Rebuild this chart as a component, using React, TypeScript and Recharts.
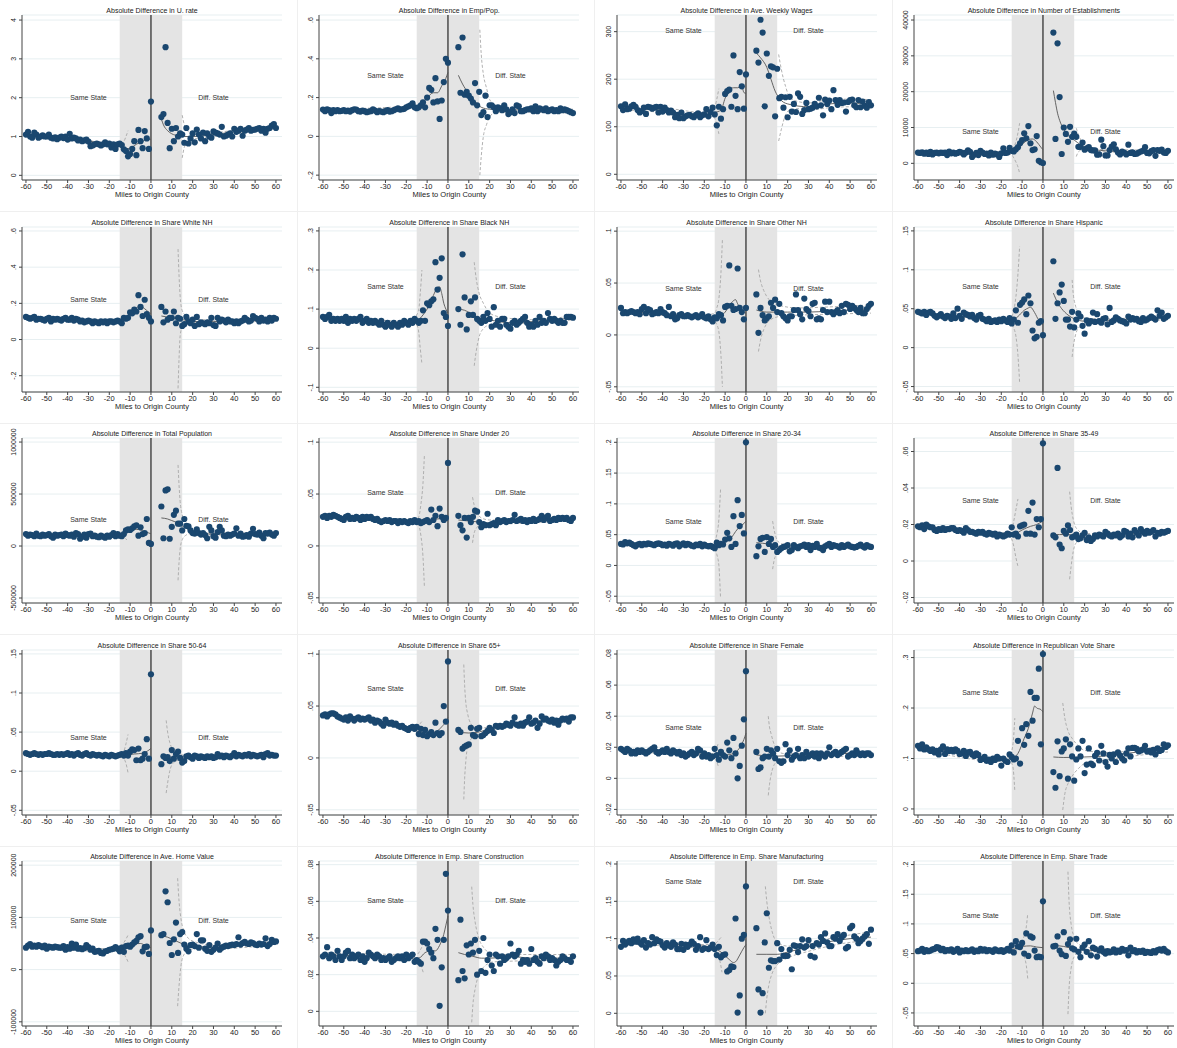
import React from 'react';
import {
  ComposedChart, Scatter, Line, XAxis, YAxis, CartesianGrid,
  ReferenceArea, ReferenceLine, ReferenceDot,
} from 'recharts';

// miles to origin county (bins)
const MILES_L = [-60, -59, -58, -57, -56, -55, -54, -53, -52, -51, -50, -49, -48, -47, -46, -45, -44, -43, -42, -41,
  -40, -39, -38, -37, -36, -35, -34, -33, -32, -31, -30, -29, -28, -27, -26, -25, -24, -23, -22, -21,
  -20, -19, -18, -17, -16, -15, -14, -13, -12, -11, -10, -9, -8, -7, -6, -5, -4, -3, -2, -1, 0];
const MILES_R = [5, 6, 7, 8, 9, 10, 11, 12, 13, 14, 15, 16, 17, 18, 19, 20, 21, 22, 23, 24, 25, 26, 27, 28, 29, 30,
  31, 32, 33, 34, 35, 36, 37, 38, 39, 40, 41, 42, 43, 44, 45, 46, 47, 48, 49, 50, 51, 52, 53, 54, 55, 56, 57, 58, 59, 60];
const X_TICKS = [-60, -50, -40, -30, -20, -10, 0, 10, 20, 30, 40, 50, 60];

// 1. unemployment rate
const URATE_L = [1.05, 1.12, 1.0, 0.97, 1.1, 1.05, 0.97, 1.0, 1.03, 1.0,
  1.0, 1.05, 0.97, 0.95, 0.98, 0.93, 0.97, 1.0, 0.96, 1.0,
  0.92, 1.07, 0.95, 0.97, 0.95, 0.9, 0.92, 0.88, 0.9, 0.92,
  0.87, 0.75, 0.77, 0.8, 0.82, 0.8, 0.77, 0.8, 0.85, 0.8,
  0.82, 0.72, 0.8, 0.68, 0.8, 0.82, 0.78, 0.67, 0.63, 0.49,
  0.55, 0.68, 0.88, 0.52, 1.17, 0.88, 0.7, 1.14, 0.95, 0.68, 1.9];
const URATE_R = [1.5, 1.58, 3.3, 1.35, 0.7, 1.2, 0.88, 1.22, 1.0, 1.08,
  1.05, 0.84, 1.22, 0.82, 0.95, 1.08, 0.85, 1.18, 1.05, 0.95,
  1.1, 0.88, 1.08, 1.0, 0.97, 1.13, 1.1, 1.08, 1.05, 1.25,
  1.0, 1.02, 1.05, 1.08, 1.0, 1.2, 1.12, 1.15, 1.2, 1.02,
  1.15, 1.18, 1.22, 1.15, 1.17, 1.18, 1.2, 1.22, 1.15, 1.2,
  1.1, 1.2, 1.22, 1.28, 1.32, 1.22];
const URATE_FIT_L = [[-60, 1.04], [-50, 1.0], [-40, 0.95], [-30, 0.88], [-20, 0.8], [-15, 0.77], [-12, 0.68], [-10, 0.7], [-7, 0.8], [-4, 0.88], [-2, 0.92], [0, 0.93]];
const URATE_FIT_R = [[5, 1.45], [6, 1.3], [8, 1.15], [10, 1.07], [13, 1.02], [16, 1.0], [20, 1.0], [30, 1.05], [40, 1.12], [50, 1.17], [60, 1.25]];
const URATE_CI_L = [[-60, 1.0, 1.08], [-40, 0.92, 0.98], [-20, 0.77, 0.83], [-15, 0.72, 0.82], [-13, 0.62, 0.88], [-12, 0.55, 1.0], [-11, 0.45, 1.15]];
const URATE_CI_R = [[15, 0.45, 1.55], [16, 0.72, 1.3], [17, 0.82, 1.18], [19, 0.9, 1.1], [22, 0.95, 1.05], [30, 1.0, 1.09], [40, 1.08, 1.16], [50, 1.13, 1.21], [60, 1.2, 1.3]];

// 2. emp/pop
const EMPPOP_L = [0.138, 0.13, 0.14, 0.135, 0.12, 0.135, 0.13, 0.135, 0.13, 0.132,
  0.135, 0.13, 0.133, 0.128, 0.135, 0.14, 0.138, 0.13, 0.128, 0.133,
  0.13, 0.125, 0.128, 0.13, 0.14, 0.133, 0.125, 0.13, 0.128, 0.125,
  0.13, 0.135, 0.128, 0.13, 0.135, 0.14, 0.145, 0.138, 0.14, 0.142,
  0.15, 0.155, 0.16, 0.17, 0.15, 0.145, 0.15, 0.16, 0.175, 0.15,
  0.2, 0.25, 0.24, 0.175, 0.3, 0.18, 0.09, 0.185, 0.28, 0.4, 0.38];
const EMPPOP_R = [0.46, 0.225, 0.51, 0.215, 0.23, 0.21, 0.195, 0.175, 0.275, 0.16,
  0.23, 0.11, 0.125, 0.21, 0.1, 0.16, 0.16, 0.15, 0.13, 0.15,
  0.145, 0.135, 0.16, 0.14, 0.115, 0.125, 0.14, 0.12, 0.16, 0.155,
  0.13, 0.13, 0.135, 0.14, 0.14, 0.145, 0.13, 0.155, 0.13, 0.145,
  0.14, 0.135, 0.145, 0.13, 0.135, 0.14, 0.13, 0.135, 0.13, 0.145,
  0.135, 0.14, 0.135, 0.13, 0.125, 0.12];
const EMPPOP_FIT_L = [[-60, 0.135], [-40, 0.133], [-25, 0.14], [-18, 0.15], [-14, 0.16], [-10, 0.2], [-7, 0.225], [-5, 0.225], [-3, 0.26], [-1, 0.3], [0, 0.33]];
const EMPPOP_FIT_R = [[5, 0.315], [7, 0.27], [10, 0.22], [13, 0.18], [16, 0.15], [20, 0.14], [30, 0.135], [40, 0.14], [50, 0.138], [60, 0.13]];
const EMPPOP_CI_L = [[-60, 0.13, 0.14], [-20, 0.145, 0.155], [-16, 0.14, 0.165], [-15, 0.125, 0.175]];
const EMPPOP_CI_R = [[15.3, -0.2, 0.55], [16, -0.1, 0.42], [17, 0.0, 0.32], [18.5, 0.06, 0.25], [20, 0.1, 0.19], [23, 0.125, 0.16], [30, 0.125, 0.145], [60, 0.12, 0.14]];

// 3. weekly wages
const WAGE_L = [143, 135, 147, 137, 138, 143, 146, 142, 135, 130,
  133, 140, 127, 142, 141, 138, 140, 142, 130, 142,
  132, 140, 135, 130, 134, 130, 120, 125, 118, 130,
  118, 122, 124, 125, 122, 120, 125, 128, 120, 124,
  126, 137, 122, 131, 140, 126, 103, 142, 117, 137,
  169, 175, 178, 142, 250, 165, 137, 215, 185, 138, 210];
const WAGE_R = [260, 235, 325, 298, 143, 254, 207, 227, 225, 122,
  222, 160, 163, 140, 162, 120, 163, 132, 148, 131,
  170, 163, 127, 135, 150, 137, 138, 140, 148, 143,
  161, 145, 124, 157, 148, 155, 137, 177, 156, 146,
  156, 150, 151, 132, 152, 156, 157, 145, 141, 156,
  141, 153, 144, 140, 152, 145];
const WAGE_FIT_L = [[-60, 140], [-50, 137], [-40, 135], [-30, 122], [-20, 125], [-15, 130], [-12, 135], [-10, 160], [-8, 178], [-6, 182], [-4, 182], [-2, 185], [-1, 172], [0, 170]];
const WAGE_FIT_R = [[5, 255], [7, 245], [10, 225], [12, 200], [14, 175], [16, 160], [20, 148], [30, 142], [40, 148], [50, 150], [60, 147]];
const WAGE_CI_L = [[-60, 136, 144], [-40, 130, 140], [-20, 120, 130], [-16, 125, 133], [-15, 118, 140], [-14, 105, 158], [-13, 85, 180]];
const WAGE_CI_R = [[15.7, 70, 252], [17, 95, 220], [19, 125, 185], [21, 135, 162], [25, 138, 153], [30, 135, 150], [40, 140, 157], [50, 142, 158], [60, 138, 157]];

// 4. number of establishments
const ESTAB_L = [3000, 2900, 3100, 2700, 3000, 2600, 3200, 2500, 2900, 3000,
  2800, 3000, 2900, 3000, 2300, 3300, 2800, 3000, 2700, 2900,
  3200, 3000, 2500, 3000, 3600, 3200, 1800, 2400, 2900, 2300,
  3500, 3000, 2600, 2700, 2200, 3000, 2400, 2700, 2500, 1800,
  2800, 4200, 2900, 3000, 4300, 3500, 3300, 3900, 4500, 5600,
  6500, 8400, 7000, 10400, 5600, 3700, 3900, 7600, 700, 300, 100];
const ESTAB_R = [36500, 6800, 33500, 18500, 2600, 10000, 8200, 6000, 10200, 7400,
  8300, 7400, 4600, 4600, 5800, 3800, 4200, 4500, 3700, 3600,
  3600, 2400, 2500, 6600, 4800, 2200, 2200, 3700, 4700, 5300,
  3900, 3000, 2500, 3300, 3000, 2500, 5200, 2900, 3100, 2600,
  2700, 3000, 3300, 3500, 4500, 2900, 2800, 3400, 3700, 2100,
  3700, 3500, 3800, 3000, 2900, 3500];
const ESTAB_FIT_L = [[-60, 2900], [-40, 2900], [-25, 2700], [-18, 3000], [-14, 3700], [-11, 4800], [-9, 5800], [-7, 6600], [-5, 6800], [-3, 6000], [-1, 4500], [0, 3800]];
const ESTAB_FIT_R = [[5, 20300], [6, 17000], [7, 14000], [8, 12000], [10, 9500], [12, 7800], [15, 6500], [18, 5200], [20, 4500], [25, 3800], [30, 3500], [40, 3300], [50, 3300], [60, 3300]];
const ESTAB_CI_L = [[-60, 2700, 3100], [-30, 2500, 3000], [-18, 2700, 3300], [-15, 2400, 3600], [-14, 1500, 4500], [-13, 400, 6000], [-12, -1000, 8500], [-11.2, -2800, 11200]];
const ESTAB_CI_R = [[16, 1900, 9800], [17, 3200, 8000], [19, 3800, 5800], [22, 3600, 4600], [30, 3200, 3800], [60, 3000, 3700]];

// 5. share white NH
const WHITE_L = [0.125, 0.12, 0.115, 0.12, 0.125, 0.11, 0.115, 0.115, 0.11, 0.105,
  0.115, 0.12, 0.1, 0.115, 0.11, 0.115, 0.11, 0.105, 0.115, 0.12,
  0.11, 0.11, 0.12, 0.105, 0.115, 0.11, 0.1, 0.105, 0.095, 0.1,
  0.105, 0.1, 0.09, 0.1, 0.095, 0.09, 0.1, 0.095, 0.1, 0.09,
  0.1, 0.1, 0.095, 0.1, 0.105, 0.1, 0.09, 0.12, 0.115, 0.12,
  0.15, 0.145, 0.165, 0.155, 0.245, 0.18, 0.13, 0.22, 0.14, 0.12, 0.1];
const WHITE_R = [0.18, 0.095, 0.155, 0.11, 0.12, 0.12, 0.155, 0.09, 0.12, 0.115,
  0.075, 0.085, 0.125, 0.1, 0.09, 0.11, 0.075, 0.125, 0.085, 0.095,
  0.09, 0.085, 0.095, 0.09, 0.12, 0.08, 0.075, 0.12, 0.1, 0.11,
  0.105, 0.095, 0.11, 0.1, 0.1, 0.09, 0.1, 0.09, 0.1, 0.105,
  0.12, 0.11, 0.1, 0.105, 0.13, 0.12, 0.115, 0.1, 0.12, 0.105,
  0.11, 0.1, 0.12, 0.105, 0.12, 0.115];
const WHITE_FIT_L = [[-60, 0.12], [-40, 0.112], [-25, 0.098], [-15, 0.1], [-12, 0.12], [-9, 0.15], [-7, 0.175], [-5, 0.185], [-3, 0.17], [-1, 0.15], [0, 0.14]];
const WHITE_FIT_R = [[5, 0.13], [10, 0.12], [15, 0.11], [20, 0.1], [30, 0.1], [40, 0.1], [50, 0.11], [60, 0.115]];
const WHITE_CI_L = [[-60, 0.115, 0.125], [-15, 0.095, 0.11], [-14, 0.09, 0.115]];
const WHITE_CI_R = [[13, -0.27, 0.5], [13.5, -0.1, 0.35], [14, 0.02, 0.24], [15, 0.07, 0.16], [17, 0.09, 0.13], [20, 0.093, 0.115], [30, 0.093, 0.108], [60, 0.105, 0.125]];

// 6. share black NH
const BLACK_L = [0.08, 0.075, 0.08, 0.085, 0.07, 0.075, 0.07, 0.075, 0.07, 0.075,
  0.07, 0.08, 0.065, 0.075, 0.07, 0.075, 0.07, 0.075, 0.08, 0.065,
  0.07, 0.075, 0.065, 0.07, 0.065, 0.07, 0.065, 0.06, 0.07, 0.06,
  0.055, 0.065, 0.06, 0.055, 0.065, 0.06, 0.055, 0.065, 0.06, 0.07,
  0.065, 0.06, 0.07, 0.065, 0.075, 0.07, 0.065, 0.07, 0.097, 0.07,
  0.115, 0.11, 0.12, 0.125, 0.22, 0.15, 0.18, 0.23, 0.09, 0.08, 0.057];
const BLACK_R = [0.1, 0.06, 0.24, 0.13, 0.048, 0.085, 0.12, 0.085, 0.13, 0.075,
  0.07, 0.065, 0.08, 0.07, 0.09, 0.075, 0.055, 0.105, 0.06, 0.07,
  0.055, 0.075, 0.075, 0.06, 0.055, 0.05, 0.065, 0.07, 0.06, 0.065,
  0.07, 0.075, 0.08, 0.065, 0.055, 0.06, 0.055, 0.07, 0.06, 0.08,
  0.065, 0.07, 0.065, 0.09, 0.075, 0.07, 0.075, 0.07, 0.065, 0.07,
  0.065, 0.065, 0.08, 0.08, 0.08, 0.078];
const BLACK_FIT_L = [[-60, 0.078], [-45, 0.072], [-30, 0.063], [-20, 0.065], [-15, 0.07], [-12, 0.085], [-9, 0.11], [-7, 0.135], [-5, 0.155], [-4, 0.157], [-3, 0.14], [-2, 0.115], [-1, 0.1], [0, 0.09]];
const BLACK_FIT_R = [[5, 0.1], [8, 0.097], [12, 0.085], [16, 0.075], [20, 0.072], [30, 0.065], [40, 0.068], [50, 0.072], [60, 0.078]];
const BLACK_CI_L = [[-60, 0.075, 0.082], [-20, 0.062, 0.07], [-16, 0.065, 0.078], [-15, 0.06, 0.085], [-14, 0.04, 0.1], [-13.3, 0.0, 0.14], [-12.5, -0.04, 0.2]];
const BLACK_CI_R = [[12.6, -0.045, 0.22], [13.5, -0.01, 0.18], [15, 0.03, 0.14], [17, 0.05, 0.115], [20, 0.06, 0.09], [25, 0.065, 0.08], [40, 0.063, 0.073], [60, 0.073, 0.083]];

// 7. share other NH
const OTHER_L = [0.026, 0.021, 0.022, 0.021, 0.022, 0.023, 0.022, 0.021, 0.022, 0.02,
  0.025, 0.027, 0.021, 0.025, 0.024, 0.02, 0.021, 0.022, 0.021, 0.025,
  0.022, 0.021, 0.019, 0.027, 0.018, 0.02, 0.015, 0.016, 0.019, 0.02,
  0.018, 0.018, 0.019, 0.018, 0.017, 0.018, 0.019, 0.017, 0.018, 0.02,
  0.017, 0.016, 0.018, 0.015, 0.013, 0.017, 0.016, 0.02, 0.019, 0.014,
  0.027, 0.028, 0.067, 0.028, 0.024, 0.025, 0.064, 0.026, 0.022, 0.015, 0.026];
const OTHER_R = [0.039, 0.002, 0.026, 0.019, 0.014, 0.016, 0.018, 0.031, 0.026, 0.034,
  0.022, 0.03, 0.021, 0.018, 0.016, 0.014, 0.018, 0.018, 0.024, 0.039,
  0.024, 0.02, 0.015, 0.035, 0.025, 0.023, 0.018, 0.03, 0.031, 0.015,
  0.016, 0.015, 0.024, 0.032, 0.022, 0.032, 0.022, 0.02, 0.022, 0.024,
  0.021, 0.028, 0.022, 0.03, 0.029, 0.025, 0.028, 0.026, 0.024, 0.022,
  0.026, 0.021, 0.021, 0.025, 0.028, 0.03];
const OTHER_FIT_L = [[-60, 0.022], [-45, 0.021], [-30, 0.018], [-18, 0.017], [-13, 0.018], [-10, 0.022], [-8, 0.028], [-6, 0.033], [-5, 0.034], [-4, 0.03], [-2, 0.024], [0, 0.021]];
const OTHER_FIT_R = [[5, 0.024], [10, 0.022], [15, 0.022], [20, 0.022], [30, 0.022], [40, 0.023], [50, 0.024], [60, 0.025]];
const OTHER_CI_L = [[-60, 0.02, 0.024], [-20, 0.016, 0.019], [-15, 0.013, 0.021], [-14, 0.01, 0.026], [-13, 0.003, 0.035], [-12, -0.02, 0.06], [-11.3, -0.05, 0.092]];
const OTHER_CI_R = [[6, -0.016, 0.063], [7, -0.005, 0.052], [8.5, 0.005, 0.043], [10, 0.011, 0.037], [13, 0.016, 0.031], [17, 0.018, 0.028], [25, 0.019, 0.026], [40, 0.02, 0.027], [60, 0.021, 0.029]];

// 8. share hispanic
const HISP_L = [0.046, 0.045, 0.044, 0.046, 0.042, 0.045, 0.046, 0.044, 0.041, 0.039,
  0.041, 0.043, 0.04, 0.038, 0.041, 0.04, 0.037, 0.044, 0.038, 0.05,
  0.041, 0.037, 0.045, 0.043, 0.042, 0.04, 0.042, 0.038, 0.036, 0.041,
  0.042, 0.037, 0.036, 0.034, 0.037, 0.033, 0.034, 0.035, 0.033, 0.036,
  0.034, 0.037, 0.035, 0.033, 0.038, 0.031, 0.036, 0.048, 0.032, 0.055,
  0.058, 0.062, 0.043, 0.067, 0.057, 0.022, 0.012, 0.014, 0.032, 0.034, 0.016];
const HISP_R = [0.111, 0.037, 0.057, 0.071, 0.081, 0.06, 0.036, 0.036, 0.027, 0.046,
  0.026, 0.036, 0.044, 0.04, 0.028, 0.018, 0.035, 0.031, 0.034, 0.045,
  0.033, 0.043, 0.034, 0.032, 0.037, 0.038, 0.03, 0.051, 0.033, 0.035,
  0.039, 0.037, 0.035, 0.034, 0.033, 0.031, 0.04, 0.036, 0.038, 0.036,
  0.037, 0.034, 0.033, 0.038, 0.035, 0.036, 0.038, 0.04, 0.038, 0.036,
  0.048, 0.041, 0.045, 0.037, 0.039, 0.041];
const HISP_FIT_L = [[-60, 0.045], [-45, 0.041], [-30, 0.038], [-20, 0.035], [-15, 0.035], [-12, 0.04], [-9, 0.048], [-7, 0.051], [-6, 0.052], [-4, 0.045], [-2, 0.035], [0, 0.029]];
const HISP_FIT_R = [[5, 0.07], [7, 0.058], [9, 0.05], [12, 0.042], [15, 0.037], [20, 0.034], [30, 0.035], [40, 0.036], [50, 0.037], [60, 0.039]];
const HISP_CI_L = [[-60, 0.043, 0.047], [-20, 0.033, 0.037], [-15, 0.03, 0.04], [-14, 0.025, 0.048], [-13, 0.015, 0.065], [-12, -0.01, 0.095], [-11.2, -0.045, 0.13]];
const HISP_CI_R = [[14, -0.012, 0.087], [14.5, 0.0, 0.07], [15.5, 0.015, 0.055], [17, 0.025, 0.045], [20, 0.03, 0.038], [30, 0.032, 0.037], [60, 0.036, 0.042]];

// 9. total population
const POP_L = [115000, 100000, 110000, 105000, 95000, 120000, 100000, 95000, 110000, 100000,
  105000, 115000, 95000, 80000, 110000, 100000, 105000, 110000, 95000, 120000,
  105000, 100000, 110000, 90000, 125000, 115000, 70000, 90000, 110000, 80000,
  115000, 120000, 95000, 100000, 90000, 85000, 100000, 90000, 80000, 100000,
  90000, 105000, 125000, 95000, 115000, 100000, 95000, 115000, 150000, 160000,
  155000, 170000, 190000, 200000, 100000, 180000, 115000, 125000, 260000, 30000, 20000];
const POP_R = [380000, 75000, 535000, 545000, 70000, 185000, 300000, 340000, 215000, 215000,
  150000, 260000, 195000, 190000, 150000, 125000, 120000, 160000, 125000, 110000,
  125000, 105000, 75000, 185000, 150000, 95000, 80000, 135000, 185000, 150000,
  100000, 95000, 110000, 100000, 110000, 120000, 170000, 100000, 120000, 90000,
  95000, 105000, 90000, 120000, 165000, 115000, 110000, 130000, 100000, 75000,
  125000, 120000, 130000, 110000, 100000, 125000];
const POP_FIT_L = [[-60, 108000], [-40, 105000], [-25, 98000], [-15, 105000], [-12, 130000], [-9, 155000], [-7, 160000], [-5, 155000], [-3, 140000], [-1, 125000], [0, 118000]];
const POP_FIT_R = [[5, 270000], [8, 260000], [10, 245000], [13, 220000], [16, 180000], [20, 140000], [25, 120000], [30, 115000], [40, 115000], [50, 115000], [60, 115000]];
const POP_CI_L = [[-60, 100000, 116000], [-20, 92000, 108000], [-15, 95000, 115000], [-13, 80000, 130000], [-11.5, 60000, 150000]];
const POP_CI_R = [[13, -330000, 780000], [13.5, -150000, 580000], [14, -30000, 430000], [15, 60000, 300000], [16.5, 100000, 230000], [19, 120000, 165000], [25, 110000, 130000], [40, 105000, 125000], [60, 105000, 125000]];

// 10. share under 20
const U20_L = [0.028, 0.029, 0.027, 0.029, 0.028, 0.03, 0.029, 0.028, 0.027, 0.026,
  0.025, 0.028, 0.029, 0.026, 0.027, 0.026, 0.028, 0.027, 0.025, 0.028,
  0.026, 0.028, 0.027, 0.028, 0.026, 0.025, 0.026, 0.024, 0.023, 0.024,
  0.025, 0.024, 0.025, 0.023, 0.024, 0.024, 0.022, 0.024, 0.023, 0.024,
  0.023, 0.022, 0.024, 0.023, 0.025, 0.023, 0.024, 0.022, 0.023, 0.024,
  0.025, 0.023, 0.035, 0.025, 0.029, 0.019, 0.036, 0.028, 0.025, 0.027, 0.08];
const U20_R = [0.029, 0.02, 0.015, 0.027, 0.008, 0.027, 0.023, 0.028, 0.034, 0.033,
  0.023, 0.018, 0.021, 0.02, 0.031, 0.02, 0.021, 0.022, 0.02, 0.025,
  0.023, 0.024, 0.025, 0.023, 0.024, 0.024, 0.025, 0.03, 0.024, 0.025,
  0.026, 0.024, 0.025, 0.023, 0.025, 0.024, 0.026, 0.024, 0.025, 0.026,
  0.029, 0.025, 0.027, 0.029, 0.024, 0.025, 0.026, 0.025, 0.027, 0.026,
  0.027, 0.026, 0.027, 0.025, 0.024, 0.027];
const U20_FIT_L = [[-60, 0.028], [-40, 0.027], [-25, 0.024], [-10, 0.024], [-5, 0.026], [0, 0.027]];
const U20_FIT_R = [[5, 0.025], [10, 0.024], [15, 0.023], [20, 0.022], [30, 0.024], [40, 0.025], [50, 0.026], [60, 0.026]];
const U20_CI_L = [[-60, 0.027, 0.029], [-15, 0.022, 0.026], [-14, 0.02, 0.028], [-13, 0.01, 0.04], [-12, -0.01, 0.06], [-11.3, -0.04, 0.088]];
const U20_CI_R = [[11.8, 0.003, 0.047], [12.5, 0.012, 0.04], [14, 0.018, 0.032], [16, 0.021, 0.027], [20, 0.021, 0.025], [60, 0.025, 0.027]];

// 11. share 20-34
const A2034_L = [0.035, 0.034, 0.038, 0.036, 0.037, 0.035, 0.033, 0.031, 0.034, 0.035,
  0.033, 0.035, 0.034, 0.036, 0.035, 0.034, 0.033, 0.035, 0.036, 0.035,
  0.033, 0.034, 0.032, 0.035, 0.034, 0.032, 0.035, 0.036, 0.031, 0.034,
  0.036, 0.033, 0.035, 0.034, 0.032, 0.031, 0.034, 0.033, 0.035, 0.031,
  0.034, 0.032, 0.031, 0.032, 0.03, 0.028, 0.037, 0.033, 0.035, 0.034,
  0.042, 0.053, 0.044, 0.03, 0.08, 0.035, 0.106, 0.064, 0.082, 0.052, 0.2];
const A2034_R = [0.015, 0.031, 0.043, 0.045, 0.022, 0.046, 0.035, 0.043, 0.03, 0.033,
  0.022, 0.025, 0.028, 0.03, 0.031, 0.033, 0.023, 0.025, 0.033, 0.03,
  0.028, 0.031, 0.032, 0.034, 0.03, 0.033, 0.025, 0.032, 0.03, 0.035,
  0.029, 0.028, 0.025, 0.031, 0.033, 0.035, 0.03, 0.033, 0.032, 0.031,
  0.029, 0.033, 0.03, 0.032, 0.034, 0.031, 0.03, 0.029, 0.03, 0.032,
  0.034, 0.031, 0.029, 0.033, 0.031, 0.03];
const A2034_FIT_L = [[-60, 0.035], [-40, 0.034], [-20, 0.032], [-14, 0.033], [-10, 0.038], [-7, 0.045], [-5, 0.055], [-3, 0.063], [-1, 0.068], [0, 0.072]];
const A2034_FIT_R = [[5, 0.037], [8, 0.036], [12, 0.034], [16, 0.03], [20, 0.03], [30, 0.031], [40, 0.032], [60, 0.031]];
const A2034_CI_L = [[-60, 0.033, 0.037], [-16, 0.03, 0.034], [-15, 0.028, 0.038], [-14, 0.018, 0.05], [-13, 0.0, 0.075], [-12.2, -0.053, 0.124]];
const A2034_CI_R = [[12.8, -0.006, 0.072], [13.5, 0.008, 0.058], [14.5, 0.018, 0.045], [16, 0.024, 0.037], [20, 0.027, 0.033], [60, 0.029, 0.033]];

// 12. share 35-49
const A3549_L = [0.019, 0.0185, 0.0195, 0.0175, 0.02, 0.019, 0.0185, 0.0185, 0.017, 0.0165,
  0.0175, 0.017, 0.018, 0.017, 0.0175, 0.0175, 0.018, 0.018, 0.017, 0.0165,
  0.017, 0.0165, 0.0155, 0.018, 0.017, 0.016, 0.016, 0.0155, 0.015, 0.016,
  0.0155, 0.016, 0.015, 0.0145, 0.0155, 0.015, 0.0145, 0.015, 0.0135, 0.0145,
  0.014, 0.0135, 0.014, 0.015, 0.0145, 0.0185, 0.0145, 0.015, 0.0135, 0.019,
  0.0195, 0.02, 0.015, 0.0275, 0.015, 0.032, 0.0145, 0.023, 0.0185, 0.023, 0.0645];
const A3549_R = [0.014, 0.013, 0.051, 0.009, 0.007, 0.0165, 0.015, 0.0195, 0.017, 0.013,
  0.0135, 0.0145, 0.012, 0.0125, 0.014, 0.0155, 0.0115, 0.013, 0.011, 0.012,
  0.014, 0.0135, 0.0145, 0.014, 0.0135, 0.016, 0.015, 0.014, 0.0135, 0.0145,
  0.014, 0.015, 0.013, 0.014, 0.0165, 0.016, 0.0135, 0.015, 0.013, 0.017,
  0.0155, 0.014, 0.0175, 0.016, 0.015, 0.0165, 0.0155, 0.016, 0.017, 0.0135,
  0.0155, 0.015, 0.016, 0.0155, 0.016, 0.0165];
const A3549_FIT_L = [[-60, 0.019], [-45, 0.0175], [-30, 0.0155], [-20, 0.014], [-14, 0.0145], [-10, 0.017], [-6, 0.019], [-3, 0.02], [0, 0.022]];
const A3549_FIT_R = [[5, 0.0145], [8, 0.0145], [12, 0.0145], [15, 0.014], [20, 0.013], [30, 0.0143], [40, 0.015], [50, 0.0155], [60, 0.016]];
const A3549_CI_L = [[-60, 0.018, 0.02], [-16, 0.0135, 0.0155], [-15, 0.012, 0.017], [-14, 0.008, 0.022], [-13, 0.002, 0.028], [-12, -0.003, 0.034]];
const A3549_CI_R = [[12.8, -0.01, 0.038], [13.5, -0.003, 0.03], [14.5, 0.005, 0.023], [16, 0.01, 0.018], [20, 0.012, 0.015], [60, 0.015, 0.017]];

// 13. share 50-64
const A5064_L = [0.023, 0.022, 0.021, 0.022, 0.023, 0.022, 0.021, 0.022, 0.021, 0.022,
  0.022, 0.023, 0.022, 0.021, 0.021, 0.022, 0.021, 0.022, 0.021, 0.022,
  0.023, 0.021, 0.022, 0.02, 0.022, 0.023, 0.021, 0.02, 0.022, 0.023,
  0.021, 0.02, 0.022, 0.021, 0.02, 0.021, 0.02, 0.019, 0.021, 0.02,
  0.019, 0.021, 0.02, 0.019, 0.02, 0.021, 0.022, 0.02, 0.023, 0.02,
  0.025, 0.028, 0.027, 0.014, 0.029, 0.014, 0.016, 0.022, 0.041, 0.016, 0.124];
const A5064_R = [0.009, 0.019, 0.017, 0.018, 0.013, 0.027, 0.016, 0.022, 0.025, 0.017,
  0.011, 0.013, 0.019, 0.02, 0.018, 0.016, 0.02, 0.019, 0.017, 0.019,
  0.018, 0.017, 0.019, 0.018, 0.019, 0.017, 0.018, 0.022, 0.019, 0.02,
  0.018, 0.02, 0.019, 0.018, 0.02, 0.023, 0.019, 0.021, 0.02, 0.019,
  0.021, 0.02, 0.022, 0.019, 0.021, 0.02, 0.019, 0.02, 0.021, 0.018,
  0.022, 0.023, 0.02, 0.021, 0.02, 0.02];
const A5064_FIT_L = [[-60, 0.022], [-40, 0.0215], [-20, 0.0195], [-12, 0.021], [-8, 0.022], [-4, 0.023], [-1, 0.027], [0, 0.029]];
const A5064_FIT_R = [[5, 0.019], [8, 0.018], [12, 0.018], [16, 0.018], [20, 0.018], [30, 0.019], [40, 0.02], [60, 0.02]];
const A5064_CI_L = [[-60, 0.021, 0.023], [-15, 0.019, 0.022], [-13, 0.016, 0.026], [-12, 0.01, 0.035], [-11, -0.002, 0.047]];
const A5064_CI_R = [[7.3, -0.028, 0.065], [8, -0.015, 0.05], [9, 0.0, 0.037], [10.5, 0.01, 0.028], [13, 0.014, 0.023], [17, 0.016, 0.02], [60, 0.019, 0.021]];

// 14. share 65+
const A65_L = [0.041, 0.042, 0.04, 0.042, 0.043, 0.043, 0.042, 0.04, 0.039, 0.038,
  0.037, 0.039, 0.036, 0.04, 0.038, 0.036, 0.038, 0.039, 0.037, 0.038,
  0.037, 0.038, 0.039, 0.036, 0.037, 0.034, 0.036, 0.035, 0.033, 0.031,
  0.037, 0.034, 0.033, 0.034, 0.032, 0.033, 0.031, 0.03, 0.031, 0.029,
  0.028, 0.027, 0.029, 0.03, 0.028, 0.03, 0.023, 0.028, 0.022, 0.027,
  0.021, 0.023, 0.025, 0.022, 0.034, 0.024, 0.022, 0.024, 0.05, 0.035, 0.093];
const A65_R = [0.027, 0.025, 0.009, 0.011, 0.012, 0.013, 0.029, 0.022, 0.021, 0.028,
  0.029, 0.021, 0.022, 0.024, 0.026, 0.029, 0.027, 0.024, 0.031, 0.03,
  0.031, 0.03, 0.031, 0.033, 0.032, 0.031, 0.034, 0.039, 0.032, 0.031,
  0.033, 0.031, 0.034, 0.035, 0.039, 0.033, 0.034, 0.036, 0.029, 0.033,
  0.04, 0.037, 0.038, 0.036, 0.035, 0.037, 0.034, 0.036, 0.032, 0.036,
  0.038, 0.037, 0.038, 0.035, 0.039, 0.039];
const A65_FIT_L = [[-60, 0.042], [-45, 0.038], [-30, 0.034], [-20, 0.029], [-15, 0.026], [-10, 0.024], [-6, 0.025], [-3, 0.03], [-1, 0.035], [0, 0.039]];
const A65_FIT_R = [[5, 0.025], [10, 0.024], [15, 0.025], [20, 0.028], [30, 0.032], [40, 0.035], [50, 0.036], [60, 0.038]];
const A65_CI_L = [[-60, 0.041, 0.043], [-20, 0.028, 0.03], [-15, 0.024, 0.029], [-13, 0.02, 0.034], [-12, 0.018, 0.036]];
const A65_CI_R = [[7.6, -0.04, 0.09], [8, -0.02, 0.07], [8.5, -0.005, 0.055], [9.5, 0.012, 0.042], [11, 0.018, 0.033], [14, 0.022, 0.028], [20, 0.026, 0.03], [60, 0.037, 0.039]];

// 15. share female
const FEM_L = [0.019, 0.018, 0.017, 0.019, 0.018, 0.016, 0.017, 0.016, 0.018, 0.017,
  0.018, 0.017, 0.016, 0.017, 0.018, 0.019, 0.02, 0.017, 0.016, 0.017,
  0.018, 0.017, 0.019, 0.017, 0.016, 0.018, 0.017, 0.016, 0.017, 0.015,
  0.016, 0.014, 0.015, 0.016, 0.017, 0.015, 0.016, 0.019, 0.018, 0.014,
  0.016, 0.014, 0.015, 0.013, 0.014, 0.019, 0.015, 0.012, 0.017, 0.015,
  0.014, 0.023, 0.018, 0.013, 0.026, 0.016, 0.0, 0.008, 0.021, 0.038, 0.069];
const FEM_R = [0.017, 0.006, 0.007, 0.013, 0.014, 0.019, 0.014, 0.018, 0.016, 0.013,
  0.019, 0.011, 0.01, 0.011, 0.022, 0.015, 0.018, 0.012, 0.014, 0.015,
  0.019, 0.013, 0.015, 0.013, 0.017, 0.014, 0.015, 0.016, 0.014, 0.016,
  0.013, 0.016, 0.015, 0.014, 0.016, 0.02, 0.015, 0.016, 0.017, 0.015,
  0.016, 0.017, 0.018, 0.019, 0.014, 0.015, 0.016, 0.015, 0.018, 0.016,
  0.015, 0.016, 0.015, 0.016, 0.016, 0.015];
const FEM_FIT_L = [[-60, 0.018], [-40, 0.0175], [-25, 0.016], [-15, 0.015], [-10, 0.015], [-6, 0.016], [-4, 0.018], [-2, 0.022], [-1, 0.025], [0, 0.029]];
const FEM_FIT_R = [[5, 0.015], [10, 0.0145], [15, 0.0143], [20, 0.0145], [30, 0.015], [40, 0.016], [50, 0.016], [60, 0.0155]];
const FEM_CI_L = [[-60, 0.017, 0.019], [-16, 0.014, 0.016], [-14.5, 0.012, 0.018], [-13.2, 0.0075, 0.023]];
const FEM_CI_R = [[10.7, -0.011, 0.04], [11.3, -0.004, 0.033], [12, 0.002, 0.029], [13, 0.007, 0.024], [15, 0.011, 0.018], [18, 0.013, 0.016], [60, 0.0145, 0.0165]];

// 16. republican vote share
const REP_L = [0.125, 0.12, 0.128, 0.118, 0.122, 0.118, 0.115, 0.118, 0.112, 0.115,
  0.108, 0.118, 0.124, 0.109, 0.118, 0.115, 0.117, 0.114, 0.118, 0.115,
  0.109, 0.11, 0.115, 0.105, 0.112, 0.113, 0.108, 0.105, 0.11, 0.107,
  0.097, 0.099, 0.103, 0.095, 0.098, 0.093, 0.1, 0.097, 0.103, 0.1,
  0.086, 0.1, 0.095, 0.093, 0.108, 0.103, 0.098, 0.1, 0.135, 0.09,
  0.16, 0.127, 0.168, 0.145, 0.232, 0.175, 0.22, 0.22, 0.278, 0.128, 0.307];
const REP_R = [0.073, 0.042, 0.134, 0.065, 0.114, 0.12, 0.138, 0.06, 0.128, 0.104,
  0.056, 0.098, 0.12, 0.104, 0.135, 0.071, 0.088, 0.12, 0.09, 0.087,
  0.105, 0.111, 0.096, 0.125, 0.11, 0.093, 0.084, 0.107, 0.1, 0.108,
  0.093, 0.112, 0.106, 0.1, 0.096, 0.11, 0.12, 0.104, 0.121, 0.121,
  0.119, 0.114, 0.116, 0.118, 0.125, 0.114, 0.115, 0.112, 0.117, 0.108,
  0.12, 0.115, 0.117, 0.128, 0.123, 0.126];
const REP_FIT_L = [[-60, 0.124], [-45, 0.115], [-30, 0.104], [-20, 0.097], [-15, 0.1], [-12, 0.11], [-9, 0.14], [-7, 0.16], [-5, 0.19], [-4, 0.204], [-3, 0.2], [-1, 0.197], [0, 0.192]];
const REP_FIT_R = [[5, 0.103], [10, 0.102], [20, 0.103], [30, 0.105], [40, 0.11], [50, 0.115], [60, 0.12]];
const REP_CI_L = [[-60, 0.121, 0.127], [-20, 0.094, 0.1], [-16, 0.095, 0.105], [-14.5, 0.085, 0.125], [-13.5, 0.035, 0.18]];
const REP_CI_R = [[9.5, -0.002, 0.21], [10.5, 0.03, 0.18], [12, 0.05, 0.155], [14, 0.065, 0.14], [17, 0.08, 0.125], [20, 0.09, 0.116], [30, 0.097, 0.112], [60, 0.113, 0.128]];

// 17. average home value
const HOME_L = [42000, 46000, 49000, 44000, 46000, 44000, 47000, 45000, 43000, 46000,
  40000, 44000, 43000, 42000, 44000, 43000, 42000, 42000, 45000, 38000,
  43000, 40000, 50000, 42000, 48000, 40000, 41000, 39000, 41000, 47000,
  43000, 38000, 40000, 34000, 35000, 36000, 32000, 31000, 35000, 36000,
  38000, 39000, 40000, 43000, 40000, 35000, 42000, 34000, 45000, 46000,
  44000, 48000, 52000, 55000, 62000, 64000, 35000, 43000, 44000, 30000, 75000];
const HOME_R = [66000, 68000, 150000, 129000, 51000, 28000, 58000, 90000, 32000, 68000,
  72000, 48000, 40000, 35000, 47000, 48000, 45000, 68000, 42000, 56000,
  56000, 40000, 36000, 47000, 34000, 38000, 42000, 50000, 38000, 42000,
  44000, 46000, 45000, 47000, 48000, 47000, 49000, 62000, 48000, 51000,
  53000, 50000, 49000, 52000, 51000, 48000, 47000, 50000, 48000, 49000,
  60000, 45000, 49000, 57000, 53000, 54000];
const HOME_FIT_L = [[-60, 45000], [-45, 43000], [-30, 40000], [-22, 35000], [-15, 40000], [-10, 45000], [-8, 49000], [-5, 50000], [-3, 47000], [0, 42000]];
const HOME_FIT_R = [[5, 65000], [8, 62000], [12, 55000], [16, 48000], [20, 45000], [30, 43000], [40, 47000], [50, 50000], [60, 51000]];
const HOME_CI_L = [[-60, 43000, 47000], [-20, 35000, 40000], [-15, 36000, 44000], [-13, 30000, 52000], [-11, 15000, 66000]];
const HOME_CI_R = [[12.8, -70000, 175000], [13.5, -30000, 130000], [14.5, 10000, 95000], [16, 30000, 72000], [18, 38000, 60000], [22, 40000, 52000], [30, 40000, 47000], [60, 48000, 54000]];

// 18. emp share construction
const CONS_L = [0.03, 0.031, 0.035, 0.029, 0.031, 0.03, 0.028, 0.033, 0.03, 0.028,
  0.03, 0.032, 0.033, 0.029, 0.031, 0.029, 0.03, 0.031, 0.028, 0.03,
  0.027, 0.029, 0.032, 0.031, 0.03, 0.029, 0.031, 0.03, 0.028, 0.029,
  0.028, 0.029, 0.03, 0.027, 0.028, 0.029, 0.03, 0.029, 0.03, 0.028,
  0.031, 0.029, 0.03, 0.031, 0.027, 0.028, 0.027, 0.026, 0.038, 0.038,
  0.037, 0.034, 0.032, 0.029, 0.045, 0.039, 0.003, 0.024, 0.039, 0.075, 0.055];
const CONS_R = [0.017, 0.05, 0.022, 0.018, 0.036, 0.031, 0.037, 0.032, 0.039, 0.02,
  0.033, 0.022, 0.04, 0.021, 0.028, 0.031, 0.025, 0.022, 0.031, 0.03,
  0.026, 0.03, 0.028, 0.029, 0.03, 0.037, 0.031, 0.03, 0.031, 0.033,
  0.026, 0.028, 0.027, 0.028, 0.026, 0.034, 0.028, 0.029, 0.027, 0.026,
  0.03, 0.029, 0.031, 0.03, 0.028, 0.029, 0.028, 0.025, 0.027, 0.028,
  0.03, 0.029, 0.028, 0.028, 0.027, 0.03];
const CONS_FIT_L = [[-60, 0.031], [-40, 0.03], [-20, 0.029], [-14, 0.029], [-11, 0.032], [-8, 0.033], [-6, 0.033], [-4, 0.036], [-2, 0.042], [-1, 0.047], [0, 0.052]];
const CONS_FIT_R = [[5, 0.032], [8, 0.031], [12, 0.03], [16, 0.029], [20, 0.029], [30, 0.03], [40, 0.029], [50, 0.029], [60, 0.029]];
const CONS_CI_L = [[-60, 0.03, 0.032], [-15, 0.028, 0.031], [-13, 0.025, 0.034], [-11.8, 0.021, 0.037]];
const CONS_CI_R = [[11.4, -0.006, 0.068], [12, 0.004, 0.058], [13, 0.012, 0.049], [14.5, 0.019, 0.041], [17, 0.024, 0.035], [22, 0.027, 0.031], [60, 0.028, 0.031]];

// 19. emp share manufacturing
const MANU_L = [0.089, 0.097, 0.092, 0.095, 0.097, 0.094, 0.099, 0.096, 0.1, 0.095,
  0.092, 0.098, 0.088, 0.094, 0.092, 0.102, 0.094, 0.099, 0.097, 0.096,
  0.091, 0.088, 0.094, 0.091, 0.089, 0.095, 0.092, 0.086, 0.086, 0.093,
  0.085, 0.092, 0.089, 0.092, 0.096, 0.093, 0.085, 0.09, 0.102, 0.085,
  0.087, 0.098, 0.086, 0.088, 0.092, 0.086, 0.078, 0.089, 0.075, 0.078,
  0.079, 0.056, 0.058, 0.063, 0.062, 0.127, 0.001, 0.024, 0.1, 0.105, 0.17];
const MANU_R = [0.114, 0.032, 0.001, 0.027, 0.095, 0.134, 0.061, 0.071, 0.07, 0.07,
  0.094, 0.072, 0.086, 0.077, 0.077, 0.077, 0.085, 0.059, 0.091, 0.09,
  0.082, 0.09, 0.099, 0.088, 0.09, 0.098, 0.077, 0.09, 0.075, 0.094,
  0.092, 0.102, 0.097, 0.107, 0.095, 0.09, 0.09, 0.102, 0.1, 0.106,
  0.097, 0.102, 0.105, 0.087, 0.089, 0.114, 0.117, 0.103, 0.1, 0.094,
  0.097, 0.1, 0.103, 0.106, 0.093, 0.112];
const MANU_FIT_L = [[-60, 0.095], [-45, 0.095], [-30, 0.091], [-20, 0.09], [-15, 0.087], [-12, 0.082], [-10, 0.077], [-8, 0.072], [-6, 0.068], [-5, 0.069], [-3, 0.078], [-1, 0.088], [0, 0.092]];
const MANU_FIT_R = [[5, 0.079], [10, 0.079], [15, 0.079], [20, 0.082], [30, 0.089], [40, 0.096], [50, 0.1], [60, 0.102]];
const MANU_CI_L = [[-60, 0.093, 0.097], [-16, 0.085, 0.092], [-14, 0.08, 0.095], [-12.5, 0.07, 0.1], [-11.5, 0.055, 0.103]];
const MANU_CI_R = [[9.3, 0.0, 0.17], [10, 0.02, 0.15], [11, 0.038, 0.13], [12.5, 0.053, 0.11], [15, 0.065, 0.095], [20, 0.074, 0.09], [30, 0.083, 0.093], [40, 0.09, 0.1], [50, 0.095, 0.105], [60, 0.097, 0.109]];

// 20. emp share trade
const TRADE_L = [0.054, 0.055, 0.058, 0.053, 0.056, 0.054, 0.055, 0.057, 0.058, 0.061,
  0.06, 0.056, 0.058, 0.054, 0.056, 0.055, 0.057, 0.053, 0.055, 0.058,
  0.052, 0.055, 0.054, 0.056, 0.054, 0.055, 0.057, 0.053, 0.055, 0.054,
  0.058, 0.055, 0.057, 0.054, 0.056, 0.055, 0.053, 0.057, 0.055, 0.054,
  0.056, 0.053, 0.055, 0.058, 0.055, 0.064, 0.052, 0.071, 0.062, 0.061,
  0.068, 0.05, 0.084, 0.046, 0.079, 0.077, 0.055, 0.044, 0.045, 0.044, 0.138];
const TRADE_R = [0.062, 0.063, 0.079, 0.055, 0.049, 0.086, 0.046, 0.066, 0.074, 0.059,
  0.057, 0.075, 0.053, 0.044, 0.06, 0.065, 0.053, 0.071, 0.047, 0.06,
  0.058, 0.045, 0.055, 0.059, 0.053, 0.05, 0.054, 0.052, 0.053, 0.057,
  0.052, 0.055, 0.053, 0.058, 0.055, 0.056, 0.047, 0.06, 0.054, 0.056,
  0.052, 0.054, 0.053, 0.055, 0.051, 0.053, 0.052, 0.051, 0.054, 0.052,
  0.056, 0.057, 0.055, 0.058, 0.054, 0.052];
const TRADE_FIT_L = [[-60, 0.055], [-30, 0.055], [-15, 0.057], [-10, 0.062], [-6, 0.063], [-3, 0.061], [0, 0.06]];
const TRADE_FIT_R = [[5, 0.064], [10, 0.062], [15, 0.058], [20, 0.056], [30, 0.055], [40, 0.055], [50, 0.054], [60, 0.054]];
const TRADE_CI_L = [[-60, 0.053, 0.057], [-15, 0.055, 0.06], [-11, 0.057, 0.067], [-9, 0.045, 0.08], [-8, 0.03, 0.095], [-7.3, 0.008, 0.118]];
const TRADE_CI_R = [[12, -0.052, 0.188], [12.5, -0.01, 0.14], [13.5, 0.025, 0.1], [15, 0.045, 0.078], [17, 0.052, 0.066], [22, 0.053, 0.06], [60, 0.052, 0.056]];

const PANELS = [
  { title: 'Absolute Difference in U. rate', yTicks: [0, 1, 2, 3, 4], yDomain: [-0.12, 4.13], labelY: 2.0, dotsL: URATE_L, dotsR: URATE_R, fitL: URATE_FIT_L, fitR: URATE_FIT_R, ciL: URATE_CI_L, ciR: URATE_CI_R },
  { title: 'Absolute Difference in Emp/Pop.', yTicks: [-0.2, 0, 0.2, 0.4, 0.6], yDomain: [-0.225, 0.626], labelY: 0.316, dotsL: EMPPOP_L, dotsR: EMPPOP_R, fitL: EMPPOP_FIT_L, fitR: EMPPOP_FIT_R, ciL: EMPPOP_CI_L, ciR: EMPPOP_CI_R },
  { title: 'Absolute Difference in Ave. Weekly Wages', yTicks: [0, 100, 200, 300], yDomain: [-12, 335], labelY: 302, dotsL: WAGE_L, dotsR: WAGE_R, fitL: WAGE_FIT_L, fitR: WAGE_FIT_R, ciL: WAGE_CI_L, ciR: WAGE_CI_R },
  { title: 'Absolute Difference in Number of Establishments', yTicks: [0, 10000, 20000, 30000, 40000], yDomain: [-4650, 41400], labelY: 8800, dotsL: ESTAB_L, dotsR: ESTAB_R, fitL: ESTAB_FIT_L, fitR: ESTAB_FIT_R, ciL: ESTAB_CI_L, ciR: ESTAB_CI_R },
  { title: 'Absolute Difference in Share White NH', yTicks: [-0.2, 0, 0.2, 0.4, 0.6], yDomain: [-0.29, 0.622], labelY: 0.222, dotsL: WHITE_L, dotsR: WHITE_R, fitL: WHITE_FIT_L, fitR: WHITE_FIT_R, ciL: WHITE_CI_L, ciR: WHITE_CI_R },
  { title: 'Absolute Difference in Share Black NH', yTicks: [-0.1, 0, 0.1, 0.2, 0.3], yDomain: [-0.112, 0.31], labelY: 0.159, dotsL: BLACK_L, dotsR: BLACK_R, fitL: BLACK_FIT_L, fitR: BLACK_FIT_R, ciL: BLACK_CI_L, ciR: BLACK_CI_R },
  { title: 'Absolute Difference in Share Other NH', yTicks: [-0.05, 0, 0.05, 0.1], yDomain: [-0.055, 0.104], labelY: 0.045, dotsL: OTHER_L, dotsR: OTHER_R, fitL: OTHER_FIT_L, fitR: OTHER_FIT_R, ciL: OTHER_CI_L, ciR: OTHER_CI_R },
  { title: 'Absolute Difference in Share Hispanic', yTicks: [-0.05, 0, 0.05, 0.1, 0.15], yDomain: [-0.057, 0.155], labelY: 0.079, dotsL: HISP_L, dotsR: HISP_R, fitL: HISP_FIT_L, fitR: HISP_FIT_R, ciL: HISP_CI_L, ciR: HISP_CI_R },
  { title: 'Absolute Difference in Total Population', yTicks: [-500000, 0, 500000, 1000000], yDomain: [-548000, 1039000], labelY: 253000, dotsL: POP_L, dotsR: POP_R, fitL: POP_FIT_L, fitR: POP_FIT_R, ciL: POP_CI_L, ciR: POP_CI_R },
  { title: 'Absolute Difference in Share Under 20', yTicks: [-0.05, 0, 0.05, 0.1], yDomain: [-0.055, 0.104], labelY: 0.051, dotsL: U20_L, dotsR: U20_R, fitL: U20_FIT_L, fitR: U20_FIT_R, ciL: U20_CI_L, ciR: U20_CI_R },
  { title: 'Absolute Difference in Share 20-34', yTicks: [-0.05, 0, 0.05, 0.1, 0.15, 0.2], yDomain: [-0.061, 0.207], labelY: 0.072, dotsL: A2034_L, dotsR: A2034_R, fitL: A2034_FIT_L, fitR: A2034_FIT_R, ciL: A2034_CI_L, ciR: A2034_CI_R },
  { title: 'Absolute Difference in Share 35-49', yTicks: [-0.02, 0, 0.02, 0.04, 0.06], yDomain: [-0.023, 0.0674], labelY: 0.033, dotsL: A3549_L, dotsR: A3549_R, fitL: A3549_FIT_L, fitR: A3549_FIT_R, ciL: A3549_CI_L, ciR: A3549_CI_R },
  { title: 'Absolute Difference in Share 50-64', yTicks: [-0.05, 0, 0.05, 0.1, 0.15], yDomain: [-0.056, 0.155], labelY: 0.043, dotsL: A5064_L, dotsR: A5064_R, fitL: A5064_FIT_L, fitR: A5064_FIT_R, ciL: A5064_CI_L, ciR: A5064_CI_R },
  { title: 'Absolute Difference in Share 65+', yTicks: [-0.05, 0, 0.05, 0.1], yDomain: [-0.055, 0.104], labelY: 0.0665, dotsL: A65_L, dotsR: A65_R, fitL: A65_FIT_L, fitR: A65_FIT_R, ciL: A65_CI_L, ciR: A65_CI_R },
  { title: 'Absolute Difference in Share Female', yTicks: [-0.02, 0, 0.02, 0.04, 0.06, 0.08], yDomain: [-0.0236, 0.0826], labelY: 0.033, dotsL: FEM_L, dotsR: FEM_R, fitL: FEM_FIT_L, fitR: FEM_FIT_R, ciL: FEM_CI_L, ciR: FEM_CI_R },
  { title: 'Absolute Difference in Republican Vote Share', yTicks: [0, 0.1, 0.2, 0.3], yDomain: [-0.012, 0.315], labelY: 0.231, dotsL: REP_L, dotsR: REP_R, fitL: REP_FIT_L, fitR: REP_FIT_R, ciL: REP_CI_L, ciR: REP_CI_R },
  { title: 'Absolute Difference in Ave. Home Value', yTicks: [-100000, 0, 100000, 200000], yDomain: [-108000, 208000], labelY: 94000, dotsL: HOME_L, dotsR: HOME_R, fitL: HOME_FIT_L, fitR: HOME_FIT_R, ciL: HOME_CI_L, ciR: HOME_CI_R },
  { title: 'Absolute Difference in Emp. Share Construction', yTicks: [0, 0.02, 0.04, 0.06, 0.08], yDomain: [-0.008, 0.082], labelY: 0.0606, dotsL: CONS_L, dotsR: CONS_R, fitL: CONS_FIT_L, fitR: CONS_FIT_R, ciL: CONS_CI_L, ciR: CONS_CI_R },
  { title: 'Absolute Difference in Emp. Share Manufacturing', yTicks: [0, 0.05, 0.1, 0.15, 0.2], yDomain: [-0.017, 0.204], labelY: 0.177, dotsL: MANU_L, dotsR: MANU_R, fitL: MANU_FIT_L, fitR: MANU_FIT_R, ciL: MANU_CI_L, ciR: MANU_CI_R },
  { title: 'Absolute Difference in Emp. Share Trade', yTicks: [-0.05, 0, 0.05, 0.1, 0.15, 0.2], yDomain: [-0.072, 0.206], labelY: 0.114, dotsL: TRADE_L, dotsR: TRADE_R, fitL: TRADE_FIT_L, fitR: TRADE_FIT_R, ciL: TRADE_CI_L, ciR: TRADE_CI_R },
];

const NAVY = '#1a476f';
const FONT = '"Liberation Sans", Arial, sans-serif';
const PANEL_W = 297.3;
const PANEL_H = 211.5;

// stata style: drop leading zero (.2, -.05)
const fmt = (v: number) => String(v).replace(/^(-?)0\./, '$1.');

const YTick = ({ x, y, payload }: any) => (
  <text x={x} y={y} transform={`rotate(-90 ${x} ${y})`} textAnchor="middle" fontSize={7} fill="#222" fontFamily={FONT}>
    {fmt(payload.value)}
  </text>
);

const Dot = (p: any) => (p.cx == null ? null : <circle cx={p.cx} cy={p.cy} r={3.1} fill={NAVY} />);

const toPts = (arr: number[][], k = 1) => arr.map((r) => ({ x: r[0], y: r[k] }));

function Panel({ p, left, top }: any) {
  const dots = [
    ...MILES_L.map((x, i) => ({ x, y: p.dotsL[i] })),
    ...MILES_R.map((x, i) => ({ x, y: p.dotsR[i] })),
  ];
  const ci = { stroke: '#a8a8a8', strokeWidth: 0.9, strokeDasharray: '3 2', dot: false, activeDot: false, isAnimationActive: false, type: 'monotone' as const };
  const fit = { stroke: '#555', strokeWidth: 0.9, dot: false, activeDot: false, isAnimationActive: false, type: 'monotone' as const };
  return (
    <div style={{ position: 'absolute', left, top, width: 297, height: 211, borderRight: '1px solid #efefef', borderBottom: '1px solid #efefef' }}>
      <ComposedChart width={297} height={211} margin={{ top: 15, right: 15, bottom: 0, left: 8 }}>
        <CartesianGrid horizontal vertical={false} stroke="#e7eff1" />
        <ReferenceArea x1={-15} x2={15} fill="#e4e4e4" fillOpacity={1} stroke="none" />
        <XAxis
          type="number" dataKey="x" domain={[-61.9, 62.9]} ticks={X_TICKS} interval={0}
          allowDataOverflow height={31} tickSize={3} tickMargin={1}
          tick={{ fontSize: 7.5, fill: '#222', fontFamily: FONT }} stroke="#444"
        />
        <YAxis
          type="number" dataKey="y" domain={p.yDomain} ticks={p.yTicks} interval={0}
          allowDataOverflow width={14} tickSize={3} tickMargin={3} tick={YTick} stroke="#444"
        />
        <ReferenceLine x={0} stroke="#555" strokeWidth={1.6} />
        <Line data={toPts(p.ciL, 1)} dataKey="y" {...ci} />
        <Line data={toPts(p.ciL, 2)} dataKey="y" {...ci} />
        <Line data={toPts(p.ciR, 1)} dataKey="y" {...ci} />
        <Line data={toPts(p.ciR, 2)} dataKey="y" {...ci} />
        <Line data={toPts(p.fitL)} dataKey="y" {...fit} />
        <Line data={toPts(p.fitR)} dataKey="y" {...fit} />
        <Scatter data={dots} dataKey="y" shape={Dot} isAnimationActive={false} />
        <ReferenceDot x={-30} y={p.labelY} r={0} fill="none" stroke="none"
          label={{ value: 'Same State', position: 'center', fontSize: 7, fill: '#333', fontFamily: FONT }} />
        <ReferenceDot x={30} y={p.labelY} r={0} fill="none" stroke="none"
          label={{ value: 'Diff. State', position: 'center', fontSize: 7, fill: '#333', fontFamily: FONT }} />
      </ComposedChart>
      <div style={{ position: 'absolute', top: 6, left: 22, width: 260, textAlign: 'center', fontSize: 7, lineHeight: '9px', color: '#222', fontFamily: FONT, whiteSpace: 'nowrap' }}>
        {p.title}
      </div>
      <div style={{ position: 'absolute', top: 190, left: 22, width: 260, textAlign: 'center', fontSize: 7.5, lineHeight: '9px', color: '#222', fontFamily: FONT }}>
        Miles to Origin County
      </div>
    </div>
  );
}

export default function App() {
  return (
    <div style={{ position: 'absolute', left: 0, top: 0, width: 1177, height: 1048, overflow: 'hidden', background: '#fff' }}>
      {PANELS.map((p, i) => (
        <Panel key={p.title} p={p} left={(i % 4) * PANEL_W} top={Math.floor(i / 4) * PANEL_H} />
      ))}
    </div>
  );
}
